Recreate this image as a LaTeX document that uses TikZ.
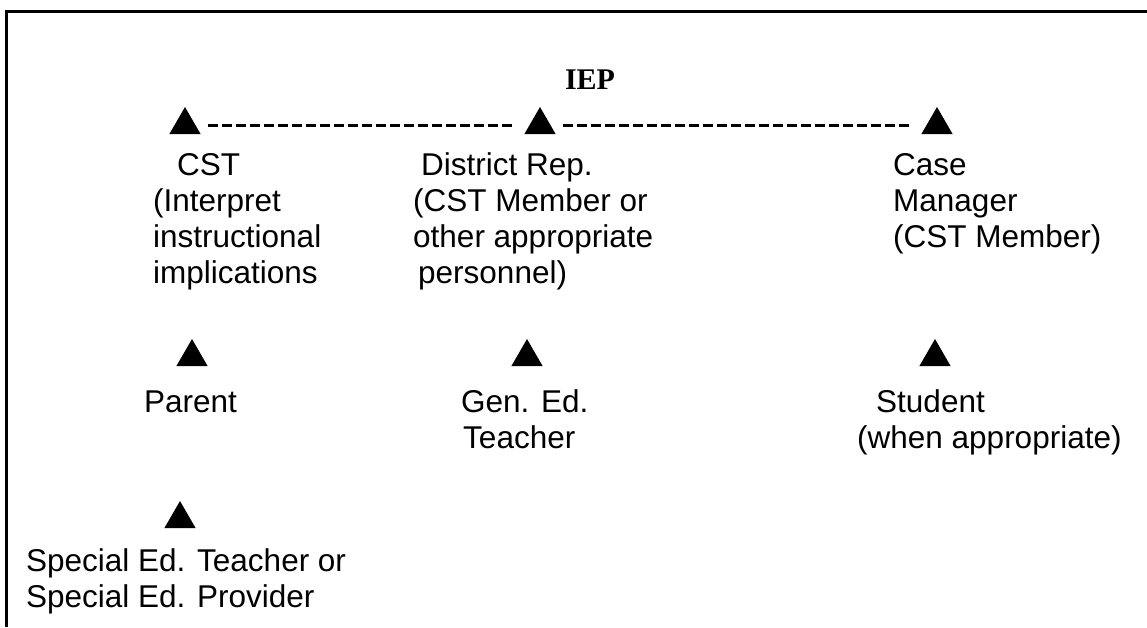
\documentclass[tikz,border=0pt]{standalone}
\usepackage{fontspec}
\setmainfont{Liberation Sans}
\newfontfamily\iepfont{Liberation Serif}
\usetikzlibrary{shapes.geometric}

\begin{document}
\begin{tikzpicture}[x=1pt, y=-1pt,
  tri/.style={regular polygon, regular polygon sides=3, fill=black, minimum size=36pt, inner sep=0pt},
  txt/.style={font=\fontsize{31.5}{36}\selectfont, align=left, anchor=base west, inner sep=0pt},
  link/.style={line width=3pt, dash pattern=on 10pt off 4pt, shorten <=12pt, shorten >=14pt}]
  \useasboundingbox (0,0) rectangle (1147,627);
  \draw[line width=2.5pt] (1147,11.5) -- (6.5,11.5) -- (6.5,627);
  \node (iep) at (590,89) [anchor=base, inner sep=0pt, font=\iepfont\bfseries\fontsize{30}{36}\selectfont] {IEP};
  % top row (text nodes sit on the baseline of their last line)
  \node[tri] (tcst) at (185,125) {};
  \node[tri] (tdrep) at (540,125) {};
  \node[tri] (tcm) at (937,125) {};
  \node[txt] (cst) at (153,283) {\hspace*{24pt}CST\\(Interpret\\instructional\\implications};
  \node[txt] (drep) at (413,283) {\hspace*{8pt}District Rep.\\(CST Member or\\other appropriate\\\hspace*{5pt}personnel)};
  \node[txt] (cm) at (893,247) {Case\\Manager\\(CST Member)};
  \path[link] (tcst) edge (tdrep)
              (tdrep) edge (tcm);
  % second row
  \node[tri] (tpar) at (192,357) {};
  \node[tri] (tgen) at (527,357) {};
  \node[tri] (tstu) at (935,357) {};
  \node[txt] (par) at (144,412) {Parent};
  \node[txt] (gen) at (461,448) {Gen. Ed.\\\hspace*{2pt}Teacher};
  \node[txt] (stu) at (857,448) {\hspace*{19pt}Student\\(when appropriate)};
  % third row
  \node[tri] (tsped) at (180,519) {};
  \node[txt] (sped) at (26,607) {Special Ed. Teacher or\\Special Ed. Provider};
\end{tikzpicture}
\end{document}
